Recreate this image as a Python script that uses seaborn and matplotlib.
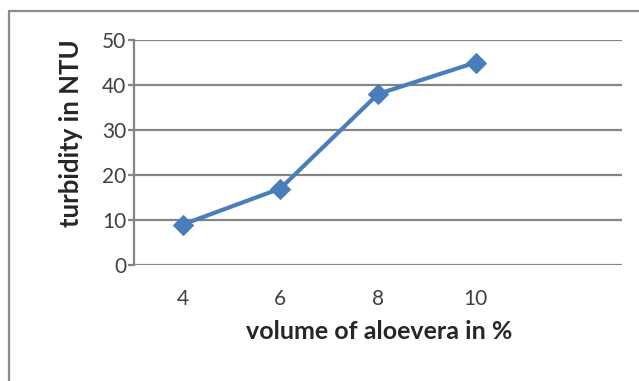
import matplotlib
matplotlib.use("Agg")
import matplotlib.pyplot as plt
from matplotlib.lines import Line2D
import seaborn as sns
import pandas as pd

# Turbidity measured for each aloevera dose
volume_labels = ["4", "6", "8", "10"]
turbidity = [9, 17, 38, 45]
y_ticks = [0, 10, 20, 30, 40, 50]

sns.set_theme(style="white")
plt.rcParams["font.family"] = ["Lato", "DejaVu Sans"]

df = pd.DataFrame({"volume": volume_labels, "turbidity": turbidity})

W, H = 639, 381
fig = plt.figure(figsize=(W / 100, H / 100), dpi=100)
fig.patch.set_facecolor("white")

# chart frame (left and top edges visible)
frame_color = "#8c8c8c"
fig.add_artist(Line2D([9 / W, 9 / W], [0, 1 - 11 / H], transform=fig.transFigure,
                      color=frame_color, lw=1.6))
fig.add_artist(Line2D([9 / W, 1], [1 - 11 / H, 1 - 11 / H], transform=fig.transFigure,
                      color=frame_color, lw=1.6))

ax_left, ax_right, ax_top, ax_bottom = 134, 622, 40, 265
ax_w, ax_h = ax_right - ax_left, ax_bottom - ax_top
ax = fig.add_axes([ax_left / W, 1 - ax_bottom / H, ax_w / W, ax_h / H])

line_color = "#4a7ebb"
sns.lineplot(data=df, x="volume", y="turbidity", sort=False, ax=ax,
             color=line_color, linewidth=3.0, marker="D", markersize=10,
             markeredgecolor=line_color, markerfacecolor=line_color)

ax.set_xlim(-0.5, 4.5)
ax.set_ylim(0, 50)
ax.set_yticks(y_ticks)
ax.set_yticklabels([str(t) for t in y_ticks])
ax.yaxis.grid(True, color="#858585", linewidth=1.6)
ax.set_axisbelow(True)

for side in ["top", "right", "bottom"]:
    ax.spines[side].set_visible(False)
ax.spines["left"].set_color("#858585")
ax.spines["left"].set_linewidth(1.6)

ax.tick_params(axis="y", which="major", direction="out", length=4.5, width=1.6,
               color="#858585", left=True, labelsize=15, labelcolor="#404040", pad=1)
ax.tick_params(axis="x", which="major", length=0, labelsize=15,
               labelcolor="#404040", pad=17)

ax.set_xlabel("volume of aloevera in %", fontsize=18, fontweight="bold",
              color="#262626")
ax.set_ylabel("turbidity in NTU", fontsize=18.5, fontweight="bold",
              color="#262626")
ax.xaxis.set_label_coords((379 - ax_left) / ax_w, -(320 - ax_bottom) / ax_h)
ax.yaxis.set_label_coords(-(ax_left - 83) / ax_w, (ax_bottom - 133) / ax_h)

fig.savefig("out.png", dpi=100, facecolor="white")
